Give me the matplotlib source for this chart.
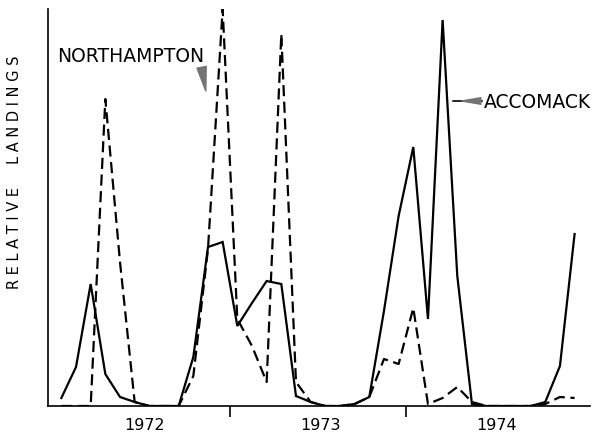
import matplotlib
matplotlib.use("Agg")
import matplotlib.pyplot as plt
import numpy as np

# Monthly relative landings, Jan 1972 - Dec 1974
months = list(range(36))
accomack = [8, 39, 122, 32, 9, 4, 0, 0, 0, 49, 159, 164,
            80, 103, 125, 122, 10, 4, 0, 0, 2, 9, 95, 190,
            259, 87, 386, 130, 2, 0, 0, 0, 0, 4, 40, 172]
northampton = [0, 0, 0, 307, 144, 4, 0, 0, 0, 30, 157, 397,
               87, 60, 24, 372, 24, 4, 0, 0, 2, 9, 47, 42,
               98, 2, 8, 19, 4, 0, 0, 0, 0, 2, 9, 8]
year_labels = ["1972", "1973", "1974"]
year_ticks = [12, 24]

fig = plt.figure(figsize=(6.07, 4.35), dpi=100)
ax = fig.add_axes([48/607, 28/435, 542/607, 397/435])

x = np.array(months) + 0.5
ax.plot(x, accomack, color="black", lw=1.6, solid_joinstyle="miter")
ax.plot(x, northampton, color="black", lw=1.6, dashes=(5, 2.5))

ax.set_xlim(-0.41, 36.55)
ax.set_ylim(0, 397)

for s in ["top", "right"]:
    ax.spines[s].set_visible(False)
ax.spines["left"].set_linewidth(1.2)
ax.spines["bottom"].set_linewidth(1.2)

ax.set_yticks([])
ax.set_xticks(year_ticks)
ax.set_xticklabels([])
ax.tick_params(axis="x", direction="out", length=8, width=1.2, color="black")

for i, lab in enumerate(year_labels):
    ax.text(i * 12 + 6.2, -19, lab, ha="center", va="center", fontsize=11.5,
            family="DejaVu Sans")

fig.text(15/607, 1 - 172/435, "R E L A T I V E     L A N D I N G S", rotation=90,
         ha="center", va="center", fontsize=10.5, family="DejaVu Sans")

ax.annotate("NORTHAMPTON", xy=(10.35, 315), xytext=(0.2, 351),
            textcoords="data", ha="left", va="center", fontsize=13.5,
            arrowprops=dict(arrowstyle="wedge,tail_width=0.5", color="0.45",
                            shrinkA=0, shrinkB=0, relpos=(0.98, 0.0)))
ax.annotate("", xy=(27.2, 305), xytext=(29.2, 305),
            arrowprops=dict(arrowstyle="-", color="black", lw=1.2,
                            shrinkA=0, shrinkB=0))
ax.annotate("ACCOMACK", xy=(27.8, 305), xytext=(29.3, 305),
            ha="left", va="center", fontsize=13.5,
            arrowprops=dict(arrowstyle="wedge,tail_width=0.35", color="0.45",
                            shrinkA=0, shrinkB=0), annotation_clip=False)

fig.savefig("out.png", dpi=100)
